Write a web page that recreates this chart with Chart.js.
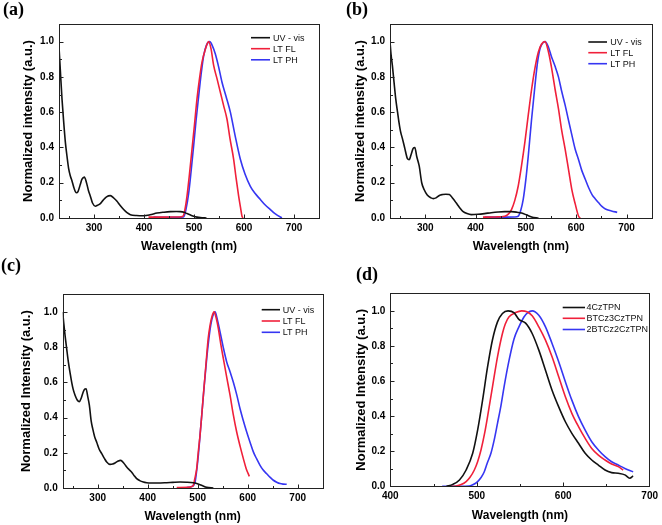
<!DOCTYPE html>
<html><head><meta charset="utf-8">
<script src="https://cdn.jsdelivr.net/npm/chart.js@4.4.1/dist/chart.umd.min.js"></script>
<style>
html,body{margin:0;padding:0;background:#fff;}
#wrap{position:relative;width:662px;height:525px;overflow:hidden;background:#fff;}
canvas{position:absolute;}
.lbl{position:absolute;font:bold 18px "Liberation Serif","Times New Roman",serif;line-height:18px;color:#000;}
</style></head><body>
<div id="wrap">
<canvas id="ca" width="331" height="262" style="left:0;top:0"></canvas>
<canvas id="cb" width="331" height="262" style="left:331px;top:0"></canvas>
<canvas id="cc" width="331" height="263" style="left:0;top:262px"></canvas>
<canvas id="cd" width="331" height="263" style="left:331px;top:262px"></canvas>
<div class="lbl" style="left:3px;top:0px">(a)</div>
<div class="lbl" style="left:346px;top:0px">(b)</div>
<div class="lbl" style="left:1px;top:256px">(c)</div>
<div class="lbl" style="left:356px;top:265px">(d)</div>
</div>
<script>
// ---------- tick labels ----------
const xTicksUV = [300, 400, 500, 600, 700];
const xMinorUV = [250, 350, 450, 550, 650, 750];
const xTicksD = [400, 500, 600, 700];
const xMinorD = [450, 550, 650];
const yTicks = [0, 0.2, 0.4, 0.6, 0.8, 1.0];
const yMinor = [0.1, 0.3, 0.5, 0.7, 0.9];

// ---------- series labels ----------
const labelsABC = ['UV - vis', 'LT FL', 'LT PH'];
const labelsD = ['4CzTPN', 'BTCz3CzTPN', '2BTCz2CzTPN'];

// ---------- panel (a) ----------
const aUv = [[230,0.97],[233,0.82],[236,0.675],[239.5,0.54],[242.7,0.43],[246,0.35],[249.3,0.28],[253,0.235],[256,0.21],[260,0.17],[264.7,0.143],[268,0.15],[272,0.185],[276,0.22],[280.7,0.232],[285,0.2],[289,0.155],[292.7,0.124],[297,0.085],[302.7,0.067],[307,0.072],[312.7,0.082],[318,0.1],[325,0.12],[332.7,0.127],[340,0.112],[346,0.095],[352,0.072],[359.3,0.048],[366,0.03],[372.7,0.019],[385,0.014],[399.3,0.013],[412,0.018],[426,0.028],[440,0.033],[452.7,0.036],[465,0.037],[472.7,0.036],[480,0.032],[486,0.025],[493,0.017],[499.3,0.01],[506,0.005],[512.7,0.002],[525,0]];
const aFl = [[409,0.005],[440,0.005],[470,0.006],[478,0.01],[482,0.05],[486,0.124],[491,0.25],[496,0.39],[501,0.53],[506,0.675],[511,0.79],[516,0.884],[522,0.95],[529.3,1.0],[534,0.96],[539.3,0.865],[546,0.79],[552.7,0.713],[559,0.64],[566,0.56],[572,0.45],[579.3,0.333],[584,0.23],[589.3,0.124],[593,0.06],[596,0.01],[598,0]];
const aPh = [[419,0.005],[450,0.004],[479.3,0.006],[484,0.05],[489.3,0.14],[494,0.26],[499.3,0.41],[504,0.55],[509.3,0.69],[514,0.81],[519.3,0.92],[525,0.98],[531.3,1.0],[537,0.975],[542.7,0.93],[549,0.86],[556,0.77],[564,0.69],[572.7,0.6],[582,0.47],[592.7,0.333],[602,0.25],[612.7,0.18],[622,0.14],[632.7,0.105],[642,0.075],[652.7,0.048],[662,0.025],[672.7,0.006],[676,0.002]];

// ---------- panel (b) ----------
const bUv = [[230,1.0],[232,0.93],[234.7,0.865],[238,0.77],[241.4,0.675],[245,0.6],[248,0.54],[251,0.49],[254.7,0.45],[259,0.4],[264.7,0.336],[268,0.33],[272,0.36],[276,0.395],[279.4,0.40],[283,0.35],[288,0.295],[293,0.2],[298,0.16],[304,0.13],[311.4,0.114],[316,0.11],[321.4,0.114],[328,0.128],[334.7,0.133],[341,0.135],[348,0.133],[355,0.11],[361.4,0.086],[368,0.06],[374.7,0.038],[383,0.025],[391.4,0.019],[405,0.021],[418,0.025],[431,0.03],[444.7,0.034],[458,0.036],[471.4,0.036],[482,0.033],[491.4,0.028],[501,0.018],[511.4,0.006],[525,0]];
const bFl = [[414.7,0.005],[440,0.006],[458,0.01],[465,0.022],[471.4,0.048],[478,0.1],[484.7,0.18],[491,0.29],[498,0.43],[505,0.59],[511.4,0.73],[518,0.85],[524.7,0.94],[531,0.985],[538,1.0],[545,0.94],[551.4,0.846],[558,0.73],[564.7,0.62],[571,0.5],[578,0.39],[585,0.27],[591.4,0.16],[598,0.08],[604.7,0.01],[608,0]];
const bPh = [[418,0.005],[450,0.005],[478,0.006],[484.7,0.01],[490,0.045],[494.7,0.105],[500,0.22],[504.7,0.35],[511,0.55],[518,0.75],[523,0.88],[528,0.96],[533,0.99],[538,1.0],[544,0.975],[551.4,0.91],[558,0.86],[564.7,0.8],[571,0.72],[578,0.64],[585,0.55],[591.4,0.47],[598,0.39],[604.7,0.33],[611,0.27],[618,0.22],[625,0.17],[631.4,0.133],[638,0.108],[644.7,0.086],[651,0.066],[658,0.051],[670,0.04],[681.4,0.032]];

// ---------- panel (c) ----------
const cUv = [[230,1.0],[232,0.94],[234.7,0.867],[238,0.79],[241.3,0.716],[245,0.65],[248,0.6],[251,0.56],[254.7,0.527],[259,0.5],[263.3,0.49],[267,0.51],[271,0.545],[274,0.562],[276.7,0.564],[280,0.52],[283.3,0.47],[287,0.38],[290,0.337],[294,0.29],[298,0.26],[303,0.22],[308,0.195],[313,0.17],[318,0.148],[324.7,0.134],[330,0.136],[334.7,0.142],[340,0.152],[346,0.157],[352,0.142],[358,0.119],[363,0.104],[368,0.09],[373,0.07],[378,0.053],[384,0.042],[391.3,0.034],[398,0.03],[404.7,0.028],[420,0.028],[438,0.03],[450,0.032],[464.7,0.034],[478,0.033],[491.3,0.03],[498,0.026],[504.7,0.019],[511,0.011],[518,0.004],[531.3,0]];
const cFl = [[458,0.003],[480,0.004],[488,0.008],[491.3,0.015],[494,0.05],[498,0.11],[501,0.2],[504.7,0.3],[508,0.41],[511.3,0.527],[514.7,0.64],[518,0.754],[521,0.85],[524.7,0.924],[528.7,0.975],[532.7,1.0],[537,0.965],[541.3,0.905],[546,0.82],[551.3,0.735],[558,0.63],[564.7,0.527],[571,0.42],[578,0.318],[585,0.235],[591.3,0.167],[597,0.11],[603.3,0.066]];
const cPh = [[478,0.003],[488,0.008],[494.7,0.034],[498,0.1],[501.3,0.186],[504.7,0.3],[508,0.41],[513,0.58],[518,0.735],[522,0.84],[526,0.924],[530,0.975],[534.7,1.0],[539,0.96],[544.7,0.886],[551,0.8],[558,0.716],[564.7,0.66],[571.3,0.6],[578,0.53],[584.7,0.45],[591,0.385],[598,0.318],[604.7,0.26],[611.3,0.205],[618,0.165],[624.7,0.129],[631,0.102],[638,0.081],[645,0.06],[651.3,0.044],[658,0.033],[664.7,0.025],[671,0.022],[678,0.021]];

// ---------- panel (d) ----------
const d4Cz = [[465,0],[472.3,0.011],[480,0.036],[487.7,0.093],[495.3,0.188],[501,0.32],[506.7,0.49],[512.5,0.68],[518.2,0.835],[524,0.937],[529.7,0.985],[536.2,1.0],[543,0.99],[549,0.95],[556.5,0.93],[564.1,0.871],[571.8,0.776],[579.5,0.662],[587.1,0.548],[594.8,0.453],[602.5,0.368],[610,0.302],[617.7,0.245],[625.4,0.188],[633,0.15],[640.7,0.121],[648.4,0.093],[656,0.078],[663.6,0.074],[671.3,0.065],[677,0.046],[680.9,0.059]];
const dBTCz3 = [[470,0],[476.2,0.002],[482,0.01],[487.7,0.027],[492,0.05],[497.2,0.093],[501,0.14],[504.9,0.207],[509,0.3],[512.5,0.397],[518.2,0.567],[524,0.738],[529.7,0.871],[533,0.925],[537.4,0.966],[545,0.99],[552,1.0],[558,0.995],[564.1,0.972],[571.8,0.909],[579.5,0.833],[587.1,0.738],[594.8,0.624],[602.5,0.51],[610,0.416],[617.7,0.34],[625.4,0.273],[633,0.216],[640.7,0.178],[648.4,0.15],[656,0.127],[663.6,0.112],[669.4,0.093]];
const d2BTCz2 = [[460,0],[480,0],[491.5,0.002],[496,0.01],[501,0.027],[505,0.05],[508.7,0.083],[512,0.13],[516.4,0.188],[520,0.26],[524,0.359],[528,0.46],[531.6,0.567],[537.4,0.719],[543.1,0.84],[548.9,0.91],[554.6,0.965],[559,0.99],[564.1,1.0],[571.8,0.975],[579.5,0.909],[587.1,0.814],[594.8,0.71],[602.5,0.596],[610,0.491],[617.7,0.397],[625.4,0.32],[633,0.254],[640.7,0.207],[648.4,0.169],[656,0.14],[663.6,0.121],[671.3,0.102],[680.9,0.083]];

const COLORS = ['#111111', '#f0203a', '#3636f2'];
const FONT = '"Liberation Sans", Arial, sans-serif';

const framePlugin = {
  id: 'frameTicks',
  afterDatasetsDraw(chart, args, opts) {
    const {ctx, chartArea: a, scales} = chart;
    ctx.save();
    ctx.strokeStyle = '#222';
    ctx.lineWidth = 1;
    ctx.strokeRect(Math.round(a.left) + 0.5, Math.round(a.top) + 0.5,
                   Math.round(a.right - a.left), Math.round(a.bottom - a.top));
    const bottom = Math.round(a.bottom) + 0.5, left = Math.round(a.left) + 0.5;
    ctx.beginPath();
    const tx = (vals, len) => vals.forEach(v => {
      const px = Math.round(scales.x.getPixelForValue(v)) + 0.5;
      if (px <= a.left + 1 || px >= a.right - 1) return;
      ctx.moveTo(px, bottom); ctx.lineTo(px, bottom - len);
    });
    const ty = (vals, len) => vals.forEach(v => {
      const py = Math.round(scales.y.getPixelForValue(v)) + 0.5;
      if (py >= a.bottom - 1 || py <= a.top + 1) return;
      ctx.moveTo(left, py); ctx.lineTo(left + len, py);
    });
    tx(opts.xMajor, 4); tx(opts.xMinor, 2.5);
    ty(yTicks, 4); ty(yMinor, 2.5);
    ctx.stroke();
    ctx.restore();
  }
};

const legendPlugin = {
  id: 'panelLegend',
  afterDraw(chart, args, o) {
    const ctx = chart.ctx;
    ctx.save();
    ctx.font = '9px ' + FONT;
    ctx.textBaseline = 'middle';
    ctx.textAlign = 'left';
    chart.data.datasets.forEach((ds, i) => {
      const y = o.rows[i];
      ctx.strokeStyle = ds.borderColor;
      ctx.lineWidth = 1.6;
      ctx.beginPath(); ctx.moveTo(o.x0, y); ctx.lineTo(o.x1, y); ctx.stroke();
      ctx.fillStyle = '#111';
      ctx.fillText(ds.label, o.tx, y + 0.5);
    });
    ctx.restore();
  }
};

function makePanel(id, p) {
  const datasets = p.series.map((s, i) => ({
    label: p.labels[i],
    data: s.map(pt => ({x: pt[0], y: pt[1]})),
    borderColor: COLORS[i],
    borderWidth: 1.6,
    pointRadius: 0,
    fill: false,
    cubicInterpolationMode: 'monotone'
  }));
  return new Chart(document.getElementById(id), {
    type: 'line',
    data: {datasets},
    options: {
      responsive: false,
      animation: false,
      events: [],
      layout: {padding: {left: 0, top: p.padTop, right: p.padRight, bottom: 0}},
      plugins: {
        legend: {display: false},
        tooltip: {enabled: false},
        frameTicks: {xMajor: p.xTicks, xMinor: p.xMinor},
        panelLegend: p.legend
      },
      scales: {
        x: {
          type: 'linear', min: p.xMin, max: p.xMax,
          afterBuildTicks: s => { s.ticks = p.xTicks.map(v => ({value: v})); },
          afterFit: s => { s.height = p.xH; },
          grid: {display: false, drawTicks: false},
          border: {display: false},
          ticks: {padding: 4, autoSkip: false, maxRotation: 0, color: '#000',
                  font: {family: FONT, weight: 'bold', size: 10},
                  callback: v => String(v)},
          title: {display: true, text: 'Wavelength (nm)', color: '#000',
                  font: {family: FONT, weight: 'bold', size: 12},
                  padding: {top: 0, bottom: p.xTitlePad}}
        },
        y: {
          type: 'linear', min: 0, max: 1.1,
          afterBuildTicks: s => { s.ticks = yTicks.map(v => ({value: v})); },
          afterFit: s => { s.width = p.yW; },
          grid: {display: false, drawTicks: false},
          border: {display: false},
          ticks: {padding: 5, autoSkip: false, color: '#000',
                  font: {family: FONT, weight: 'bold', size: 10},
                  callback: v => Number(v).toFixed(1)},
          title: {display: true, text: p.yTitle, color: '#000',
                  font: {family: FONT, weight: 'bold', size: 13},
                  padding: {top: p.yTitlePad, bottom: 0}}
        }
      }
    },
    plugins: [framePlugin, legendPlugin]
  });
}

makePanel('ca', {
  series: [aUv, aFl, aPh], labels: labelsABC,
  xMin: 230, xMax: 750, xTicks: xTicksUV, xMinor: xMinorUV,
  yTitle: 'Normalized intensity (a.u.)',
  padTop: 24, padRight: 12, yW: 59, xH: 44, yTitlePad: 20.5, xTitlePad: 8.1,
  legend: {x0: 251, x1: 270, tx: 273, rows: [37.7, 48.7, 59.8]}
});
makePanel('cb', {
  series: [bUv, bFl, bPh], labels: labelsABC,
  xMin: 230, xMax: 750, xTicks: xTicksUV, xMinor: xMinorUV,
  yTitle: 'Normalized intensity (a.u.)',
  padTop: 24, padRight: 10.3, yW: 59, xH: 44, yTitlePad: 21.5, xTitlePad: 8.1,
  legend: {x0: 257.3, x1: 276, tx: 279.3, rows: [42, 52.7, 63.7]}
});
makePanel('cc', {
  series: [cUv, cFl, cPh], labels: labelsABC,
  xMin: 230, xMax: 750, xTicks: xTicksUV, xMinor: xMinorUV,
  yTitle: 'Normalized Intensity (a.u.)',
  padTop: 32.3, padRight: 8.3, yW: 62.7, xH: 37, yTitlePad: 18.7, xTitlePad: 0.8,
  legend: {x0: 261.7, x1: 280, tx: 282.7, rows: [47.7, 59, 70.3]}
});
makePanel('cd', {
  series: [d4Cz, dBTCz3, d2BTCz2], labels: labelsD,
  xMin: 400, xMax: 700, xTicks: xTicksD, xMinor: xMinorD,
  yTitle: 'Normalized Intensity (a.u.)',
  padTop: 31.3, padRight: 10.3, yW: 59.3, xH: 38.7, yTitlePad: 22.2, xTitlePad: 2.5,
  legend: {x0: 231.7, x1: 254, tx: 255.5, rows: [45.5, 56.3, 67.5]}
});
</script>
</body></html>
